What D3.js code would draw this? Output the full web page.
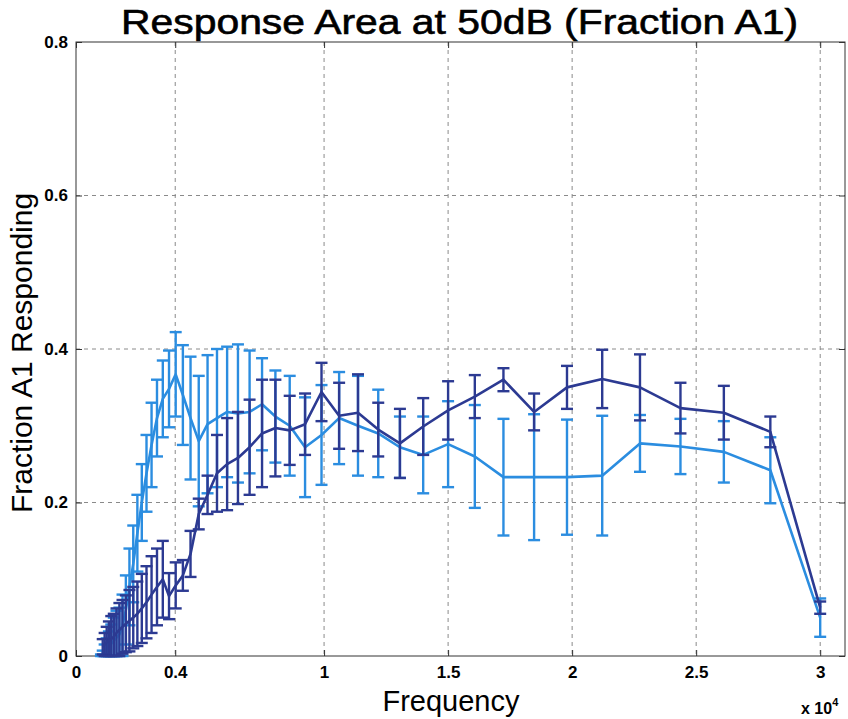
<!DOCTYPE html>
<html>
<head>
<meta charset="utf-8">
<script src="https://cdn.jsdelivr.net/npm/d3@7"></script>
<style>
  body { margin: 0; background: #fff; }
  text { font-family: "Liberation Sans", Arial, sans-serif; }
</style>
</head>
<body>
<div id="chart"></div>
<script>
// tenth-octave test frequencies (Hz)
var freqs = [1005, 1077, 1154, 1237, 1326, 1421, 1523, 1632, 1749, 1875,
    2010, 2154, 2308, 2474, 2652, 2842, 3046, 3265, 3499, 3750,
    4019, 4308, 4617, 4948, 5303, 5684, 6092, 6529, 6998, 7500,
    8038, 8615, 9234, 9897, 10607, 11368, 12184, 13058, 13996, 15000,
    16077, 17231, 18467, 19793, 21213, 22735, 24367, 26116, 27990, 30000];

// light blue series
var lightMean = [0, 0.002, 0.005, 0.008, 0.012, 0.016, 0.02, 0.024, 0.028, 0.04,
    0.06, 0.09, 0.12, 0.16, 0.2, 0.238, 0.275, 0.31, 0.335, 0.348,
    0.367, 0.34, 0.31, 0.28, 0.302, 0.31, 0.318, 0.316, 0.318, 0.328,
    0.312, 0.30, 0.272, 0.288, 0.31, 0.30, 0.29, 0.272, 0.262, 0.276,
    0.26, 0.233, 0.233, 0.233, 0.235, 0.277, 0.273, 0.266, 0.242, 0.05];
var lightErr = [0.002, 0.005, 0.01, 0.015, 0.02, 0.025, 0.03, 0.035, 0.035, 0.04,
    0.045, 0.05, 0.05, 0.05, 0.05, 0.05, 0.055, 0.05, 0.05, 0.05,
    0.055, 0.065, 0.08, 0.085, 0.09, 0.09, 0.085, 0.09, 0.08, 0.06,
    0.06, 0.065, 0.065, 0.065, 0.06, 0.065, 0.057, 0.04, 0.05, 0.056,
    0.067, 0.076, 0.082, 0.075, 0.078, 0.037, 0.036, 0.04, 0.043, 0.025];

// dark blue series
var darkMean = [null, 0.012, 0.015, 0.018, 0.02, 0.022, 0.025, 0.03, 0.034, 0.038,
    0.042, 0.046, 0.05, 0.055, 0.062, 0.07, 0.08, 0.09, 0.1, 0.078,
    0.092, 0.105, 0.133, 0.185, 0.21, 0.238, 0.25, 0.258, 0.272, 0.29,
    0.297, 0.294, 0.302, 0.344, 0.313, 0.317, 0.295, 0.277, 0.299, 0.32,
    0.338, 0.36, 0.318, 0.35, 0.361, 0.35, 0.323, 0.317, 0.292, 0.063];
var darkErr = [0, 0.01, 0.015, 0.02, 0.025, 0.03, 0.03, 0.032, 0.035, 0.035,
    0.037, 0.04, 0.04, 0.042, 0.045, 0.047, 0.05, 0.05, 0.05, 0.03,
    0.03, 0.02, 0.03, 0.02, 0.025, 0.05, 0.06, 0.06, 0.062, 0.07,
    0.063, 0.045, 0.04, 0.038, 0.043, 0.05, 0.035, 0.045, 0.037, 0.038,
    0.028, 0.015, 0.024, 0.028, 0.038, 0.043, 0.033, 0.035, 0.02, 0.008];

var xTicks = [0, 4000, 10000, 15000, 20000, 25000, 30000];
var xTickLabels = ["0", "0.4", "1", "1.5", "2", "2.5", "3"];
var yTicks = [0, 0.2, 0.4, 0.6, 0.8];

var svgWidth = 848;
var svgHeight = 719;

var margin = { top: 42, bottom: 63, left: 76, right: 3 };
var chartWidth = svgWidth - margin.left - margin.right;
var chartHeight = svgHeight - margin.top - margin.bottom;

var svg = d3.select("#chart")
    .append("svg")
    .attr("width", svgWidth)
    .attr("height", svgHeight);

var chartGroup = svg.append("g")
    .attr("transform", `translate(${margin.left}, ${margin.top})`);

var xScale = d3.scaleLinear().domain([0, 31000]).range([0, chartWidth]);
var yScale = d3.scaleLinear().domain([0, 0.8]).range([chartHeight, 0]);

// dashed grid
chartGroup.append("g").selectAll("line")
    .data(xTicks.slice(1))
    .enter().append("line")
    .attr("x1", d => xScale(d)).attr("x2", d => xScale(d))
    .attr("y1", 0).attr("y2", chartHeight)
    .attr("stroke", "#8a8a8a").attr("stroke-width", 1)
    .attr("stroke-dasharray", "4,4");
chartGroup.append("g").selectAll("line")
    .data(yTicks.slice(1, 4))
    .enter().append("line")
    .attr("x1", 0).attr("x2", chartWidth)
    .attr("y1", d => yScale(d)).attr("y2", d => yScale(d))
    .attr("stroke", "#8a8a8a").attr("stroke-width", 1)
    .attr("stroke-dasharray", "4,4");

// axes with inward ticks
var bottomAxis = d3.axisBottom(xScale)
    .tickValues(xTicks)
    .tickFormat((d, i) => xTickLabels[i])
    .tickSizeInner(-6).tickSizeOuter(0).tickPadding(10);
var topAxis = d3.axisTop(xScale)
    .tickValues(xTicks).tickFormat("")
    .tickSizeInner(-6).tickSizeOuter(0);
var leftAxis = d3.axisLeft(yScale)
    .tickValues(yTicks)
    .tickFormat(d => d === 0 ? "0" : d3.format(".1f")(d))
    .tickSizeInner(-6).tickSizeOuter(0).tickPadding(8);
var rightAxis = d3.axisRight(yScale)
    .tickValues(yTicks).tickFormat("")
    .tickSizeInner(-6).tickSizeOuter(0);

var axes = [
    chartGroup.append("g").attr("transform", `translate(0, ${chartHeight})`).call(bottomAxis),
    chartGroup.append("g").call(topAxis),
    chartGroup.append("g").call(leftAxis),
    chartGroup.append("g").attr("transform", `translate(${chartWidth}, 0)`).call(rightAxis)
];
axes.forEach(a => {
    a.select(".domain").remove();
    a.selectAll("line").attr("stroke", "#333");
    a.selectAll("text")
        .style("font-family", "'Liberation Sans', Arial, sans-serif")
        .style("font-size", "17px")
        .style("font-weight", "bold")
        .attr("fill", "#000");
});

// frame
chartGroup.append("rect")
    .attr("width", chartWidth).attr("height", chartHeight)
    .attr("fill", "none").attr("stroke", "#333").attr("stroke-width", 1);

function drawSeries(means, errs, color) {
    var pts = freqs.map((f, i) => ({ f: f, m: means[i], e: errs[i] }))
        .filter(d => d.m !== null);
    var g = chartGroup.append("g");
    var cap = 6;
    var bars = g.selectAll("g.bar").data(pts).enter().append("g");
    bars.append("line")
        .attr("x1", d => xScale(d.f)).attr("x2", d => xScale(d.f))
        .attr("y1", d => yScale(Math.max(0, d.m - d.e)))
        .attr("y2", d => yScale(d.m + d.e));
    bars.append("line")
        .attr("x1", d => xScale(d.f) - cap).attr("x2", d => xScale(d.f) + cap)
        .attr("y1", d => yScale(d.m + d.e)).attr("y2", d => yScale(d.m + d.e));
    bars.append("line")
        .attr("x1", d => xScale(d.f) - cap).attr("x2", d => xScale(d.f) + cap)
        .attr("y1", d => yScale(Math.max(0, d.m - d.e))).attr("y2", d => yScale(Math.max(0, d.m - d.e)));
    bars.selectAll("line").attr("stroke", color).attr("stroke-width", 2.4);

    var line = d3.line().x(d => xScale(d.f)).y(d => yScale(d.m));
    g.append("path")
        .datum(pts)
        .attr("d", line)
        .attr("fill", "none")
        .attr("stroke", color)
        .attr("stroke-width", 2.6)
        .attr("stroke-linejoin", "round");
}

drawSeries(lightMean, lightErr, "#2b8de0");
drawSeries(darkMean, darkErr, "#2c3a92");

// titles
svg.append("text")
    .attr("x", 121).attr("y", 34)
    .attr("textLength", 677).attr("lengthAdjust", "spacingAndGlyphs")
    .style("font-size", "35px")
    .style("stroke", "#000").style("stroke-width", 0.6)
    .text("Response Area at 50dB (Fraction A1)");

svg.append("text")
    .attr("x", 451).attr("y", 711)
    .attr("text-anchor", "middle")
    .style("font-size", "29px")
    .text("Frequency");

svg.append("text")
    .attr("transform", "translate(32, 353) rotate(-90)")
    .attr("text-anchor", "middle")
    .style("font-size", "30px")
    .text("Fraction A1 Responding");

var expo = svg.append("text")
    .attr("x", 801).attr("y", 714)
    .style("font-size", "16px").style("font-weight", "bold")
    .text("x 10");
expo.append("tspan")
    .attr("dy", -8)
    .style("font-size", "11px")
    .text("4");
</script>
</body>
</html>
